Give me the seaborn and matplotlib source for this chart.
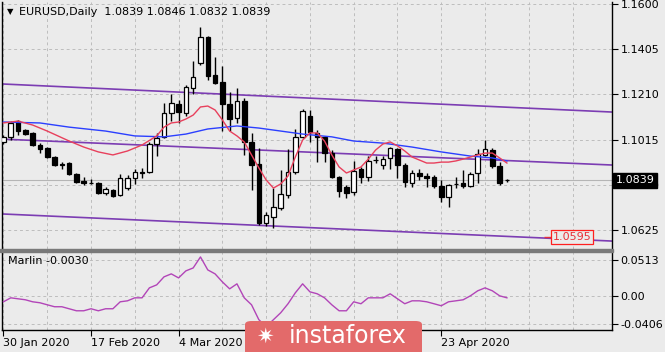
import numpy as np
import pandas as pd
import matplotlib
matplotlib.use("Agg")
import matplotlib.pyplot as plt
import matplotlib.transforms as mtransforms
from matplotlib.patches import Rectangle, FancyBboxPatch
import seaborn as sns

plt.rcParams['font.family'] = ['DejaVu Sans']

# ---------------- data (EURUSD daily, bar index 0 = 30 Jan 2020) ----------------
opens = [1.1005, 1.1026, 1.1095, 1.1057, 1.1044, 1.0992, 1.0979, 1.0940, 1.0910, 1.0914,
         1.0867, 1.0836, 1.0828, 1.0828, 1.0785, 1.0798, 1.0776, 1.0806, 1.0850, 1.0875,
         1.0875, 1.0996, 1.1026, 1.1130, 1.1169, 1.1130, 1.1238, 1.1346, 1.1458, 1.1294,
         1.1263, 1.1169, 1.1108, 1.1182, 1.1005, 1.0910, 1.0655, 1.0681, 1.0720, 1.0776,
         1.0875, 1.1026, 1.1117, 1.1044, 1.1026, 1.0957, 1.0854, 1.0810, 1.0789, 1.0888,
         1.0854, 1.0927, 1.0906, 1.0936, 1.0975, 1.0906, 1.0828, 1.0871, 1.0856, 1.0854,
         1.0815, 1.0768, 1.0824, 1.0828, 1.0815, 1.0871, 1.0949, 1.0970, 1.0901, 1.0839]
highs = [1.1035, 1.1095, 1.1100, 1.1061, 1.1048, 1.1000, 1.0983, 1.0944, 1.0918, 1.0918,
         1.0871, 1.0854, 1.0845, 1.0832, 1.0811, 1.0802, 1.0867, 1.0862, 1.0888, 1.0893,
         1.1005, 1.1044, 1.1173, 1.1212, 1.1186, 1.1251, 1.1354, 1.1501, 1.1462, 1.1371,
         1.1333, 1.1221, 1.1238, 1.1195, 1.1044, 1.0979, 1.0703, 1.0806, 1.0884, 1.0974,
         1.1061, 1.1147, 1.1143, 1.1057, 1.1031, 1.0970, 1.0858, 1.0819, 1.0923, 1.0897,
         1.0944, 1.0944, 1.0944, 1.0983, 1.0979, 1.0914, 1.0884, 1.0888, 1.0871, 1.0863,
         1.0841, 1.0824, 1.0854, 1.0884, 1.0875, 1.0974, 1.1013, 1.0979, 1.0918, 1.0846]
lows = [1.0996, 1.1013, 1.1035, 1.1035, 1.0987, 1.0957, 1.0936, 1.0901, 1.0888, 1.0862,
        1.0828, 1.0819, 1.0824, 1.0780, 1.0776, 1.0768, 1.0772, 1.0798, 1.0824, 1.0850,
        1.0871, 1.0944, 1.1022, 1.1095, 1.1087, 1.1117, 1.1212, 1.1337, 1.1272, 1.1255,
        1.1052, 1.1052, 1.1087, 1.0949, 1.0798, 1.0647, 1.0642, 1.0634, 1.0711, 1.0763,
        1.0867, 1.1022, 1.1005, 1.0918, 1.0918, 1.0850, 1.0767, 1.0763, 1.0776, 1.0828,
        1.0836, 1.0914, 1.0888, 1.0888, 1.0850, 1.0811, 1.0811, 1.0841, 1.0811, 1.0806,
        1.0746, 1.0724, 1.0806, 1.0806, 1.0811, 1.0828, 1.0944, 1.0893, 1.0819, 1.0832]
closes = [1.1026, 1.1087, 1.1052, 1.1039, 1.0992, 1.0975, 1.0940, 1.0906, 1.0907, 1.0867,
          1.0832, 1.0828, 1.0827, 1.0785, 1.0802, 1.0772, 1.0850, 1.0850, 1.0875, 1.0873,
          1.0996, 1.1022, 1.1130, 1.1173, 1.1134, 1.1242, 1.1285, 1.1458, 1.1289, 1.1259,
          1.1169, 1.1104, 1.1182, 1.1005, 1.0906, 1.0655, 1.0690, 1.0724, 1.0780, 1.0875,
          1.1026, 1.1138, 1.1048, 1.1026, 1.0957, 1.0854, 1.0793, 1.0785, 1.0880, 1.0854,
          1.0923, 1.0925, 1.0931, 1.0979, 1.0906, 1.0832, 1.0871, 1.0858, 1.0850, 1.0815,
          1.0768, 1.0819, 1.0822, 1.0815, 1.0867, 1.0953, 1.0974, 1.0901, 1.0828, 1.0839]

# fast moving average (red), read at these bars
red_idx = [0, 2, 4, 6, 9, 11, 13, 15, 17, 19, 21, 22, 23, 24, 25, 26, 27, 28, 29, 30,
           31, 32, 33, 34, 35, 36, 37, 38, 39, 40, 41, 42, 43, 44, 45, 46, 47, 48, 49, 50,
           51, 52, 53, 54, 55, 56, 57, 58, 59, 60, 61, 62, 63, 64, 65, 66, 67, 68, 69]
red_val = [1.1087, 1.1095, 1.1078, 1.1052, 1.1009, 1.0983, 1.0962, 1.0949, 1.0966, 1.0992,
           1.1031, 1.1069, 1.1087, 1.1091, 1.1104, 1.1121, 1.1156, 1.1160, 1.1143, 1.1100,
           1.1052, 1.1031, 1.1005, 1.0949, 1.0893, 1.0841, 1.0806, 1.0824, 1.0858, 1.0940,
           1.1013, 1.1044, 1.1044, 1.1009, 1.0949, 1.0897, 1.0871, 1.0884, 1.0897, 1.0931,
           1.0970, 1.0996, 1.1005, 1.0988, 1.0966, 1.0940, 1.0927, 1.0914, 1.0914, 1.0918,
           1.0918, 1.0923, 1.0931, 1.0940, 1.0949, 1.0957, 1.0957, 1.0936, 1.0914]

# slow moving average (blue)
blue_idx = [0, 5, 9, 14, 18, 22, 25, 28, 32, 35, 38, 41, 45, 48, 52, 56, 60, 64, 67, 69]
blue_val = [1.1091, 1.1087, 1.1069, 1.1052, 1.1031, 1.1027, 1.1039, 1.1061, 1.1074, 1.1065,
            1.1052, 1.1039, 1.1027, 1.1009, 1.1000, 1.0983, 1.0962, 1.0944, 1.0936, 1.0923]

# trend channel anchors (bar index, price)
chan_x = [0, 80]
chan_upper = [1.1255, 1.1139]
chan_middle = [1.1017, 1.0910]
chan_lower = [1.0694, 1.0582]

level_price = 1.0595
last_price = 1.0839

# Marlin oscillator
marlin = [-0.0086, -0.0029, -0.0043, -0.0057, -0.0086, -0.0100, -0.0129, -0.0157, -0.0157, -0.0186,
          -0.0215, -0.0215, -0.0186, -0.0215, -0.0186, -0.0186, -0.0086, -0.0072, -0.0029, -0.0029,
          0.0114, 0.0157, 0.0272, 0.0315, 0.0257, 0.0358, 0.0400, 0.0558, 0.0372, 0.0315,
          0.0200, 0.0100, 0.0172, -0.0029, -0.0129, -0.0343, -0.0443, -0.0343, -0.0243, -0.0114,
          0.0043, 0.0172, 0.0057, 0.0029, -0.0029, -0.0129, -0.0215, -0.0215, -0.0086, -0.0114,
          -0.0029, -0.0029, -0.0029, 0.0029, -0.0043, -0.0114, -0.0072, -0.0072, -0.0086, -0.0114,
          -0.0143, -0.0086, -0.0072, -0.0057, 0.0000, 0.0072, 0.0114, 0.0072, 0.0000, -0.0029]

price_ticks = [1.1600, 1.1405, 1.1210, 1.1015, 1.0820, 1.0625]
marlin_ticks = [0.0513, 0.0, -0.0406]
marlin_tick_labels = ['0.0513', '0.00', '-0.0406']
date_pos = [0, 12, 24, 60]
date_labels = ['30 Jan 2020', '17 Feb 2020', '4 Mar 2020', '23 Apr 2020']
date_grid = list(range(0, 84, 6))

# ---------------- figure ----------------
W, H = 665, 352
bg = '#ebebeb'
fig = plt.figure(figsize=(W / 100, H / 100), dpi=100)
fig.patch.set_facecolor(bg)


def rect(x0, y0, x1, y1):
    return [x0 / W, 1 - y1 / H, (x1 - x0) / W, (y1 - y0) / H]


ax = fig.add_axes(rect(2, 2, 612, 249))
ax2 = fig.add_axes(rect(2, 252, 612, 330))
XMIN, XMAX = -0.2, 83.4
grid_kw = dict(color='#bdbdbd', lw=0.7, ls=(0, (3, 3)), zorder=0)

for a in (ax, ax2):
    a.set_facecolor(bg)
    a.set_xlim(XMIN, XMAX)
    for g in date_grid:
        a.axvline(g, **grid_kw)

# main panel
ax.set_ylim(1.0543, 1.1609)
for t in price_ticks:
    ax.axhline(t, **grid_kw)
ax.axhline(last_price, color='#b5b5b5', lw=0.8, zorder=1)

idx = np.arange(len(opens))
df = pd.DataFrame({'i': idx, 'o': opens, 'h': highs, 'l': lows, 'c': closes})
ax.vlines(df['i'], df['l'], df['h'], color='black', lw=1.0, zorder=3)
body_bottom = np.minimum(df['o'], df['c'])
body_h = np.maximum(np.abs(df['c'] - df['o']), 0.00005)
colors = np.where(df['c'] >= df['o'], 'white', 'black')
ax.bar(df['i'], body_h, bottom=body_bottom, width=0.62, color=colors,
       edgecolor='black', linewidth=0.9, zorder=4)

for xa, ya in [(chan_x, chan_upper), (chan_x, chan_middle), (chan_x, chan_lower)]:
    ax.axline((xa[0], ya[0]), (xa[1], ya[1]), color='#7c3db3', lw=1.2, zorder=2)

sns.lineplot(x=blue_idx, y=blue_val, ax=ax, color='#2b3fff', lw=1.0, zorder=5)
sns.lineplot(x=red_idx, y=red_val, ax=ax, color='#e8405c', lw=1.0, zorder=6)

ax.hlines(level_price, 74.1, 80.6, color='#e8303a', lw=1.0, zorder=6)
ax.text(77.9, level_price, '1.0595', color='#e8303a', fontsize=8, ha='center', va='center',
        zorder=7, bbox=dict(boxstyle='square,pad=0.15', fc=bg, ec='#ff2020', lw=0.9))

ax.yaxis.tick_right()
ax.set_yticks(price_ticks)
ax.set_yticklabels([f'{t:.4f}' for t in price_ticks])
ax.tick_params(axis='y', direction='out', length=4, width=0.8, pad=2, labelsize=8, colors='black')
ax.set_xticks([])
for s in ['top', 'bottom']:
    ax.spines[s].set_visible(False)
for s in ['left', 'right']:
    ax.spines[s].set_color('black')
    ax.spines[s].set_linewidth(1.0)

trans = mtransforms.blended_transform_factory(ax.transAxes, ax.transData)
ax.text(1.006, last_price, '1.0839', transform=trans, color='white', fontsize=8,
        ha='left', va='center', zorder=10, clip_on=False,
        bbox=dict(boxstyle='square,pad=0.25', fc='black', ec='black'))
ax.set_ylabel('')
ax.set_xlabel('')

# lower panel
ax2.set_ylim(-0.0491, 0.0629)
for t in marlin_ticks:
    ax2.axhline(t, **grid_kw)
sns.lineplot(x=idx, y=marlin, ax=ax2, color='#b245b8', lw=1.0, zorder=3)
ax2.yaxis.tick_right()
ax2.set_yticks(marlin_ticks)
ax2.set_yticklabels(marlin_tick_labels)
ax2.tick_params(axis='y', direction='out', length=4, width=0.8, pad=2, labelsize=8)
ax2.set_xticks(date_pos)
ax2.set_xticklabels(date_labels)
ax2.tick_params(axis='x', direction='out', length=4, width=0.8, pad=2, labelsize=8)
for lbl in ax2.get_xticklabels():
    lbl.set_ha('left')
ax2.spines['top'].set_visible(False)
for s in ['left', 'right', 'bottom']:
    ax2.spines[s].set_color('black')
    ax2.spines[s].set_linewidth(1.0)
ax2.set_ylabel('')
ax2.set_xlabel('')
ax2.text(0.01, 0.89, 'Marlin -0.0030', transform=ax2.transAxes, fontsize=8, ha='left', va='center')

# separator between panels
fig.patches.append(Rectangle((0, 1 - 251.5 / H), 613 / W, 3 / H, transform=fig.transFigure,
                             color='#7a7a7a', zorder=5))

# header
fig.text(7 / W, 1 - 12 / H, '\u25BC', fontsize=6, ha='left', va='center')
fig.text(19 / W, 1 - 12 / H, 'EURUSD,Daily  1.0839 1.0846 1.0832 1.0839', fontsize=8,
         ha='left', va='center')

# watermark
fig.patches.append(FancyBboxPatch((245 / W, -0.05), 177 / W, (0.05 + 31 / H),
                                  boxstyle='round,pad=0,rounding_size=0.01',
                                  transform=fig.transFigure, fc='#e36a6a', ec='none', zorder=20))
fig.text(256 / W, 1 - 337 / H, '\u2737', fontsize=15, color='white', ha='left', va='center', zorder=21)
fig.text(289 / W, 1 - 336 / H, 'instaforex', fontsize=17, color='white', ha='left', va='center',
         zorder=21)

fig.savefig('out.png', dpi=100, facecolor=bg)
